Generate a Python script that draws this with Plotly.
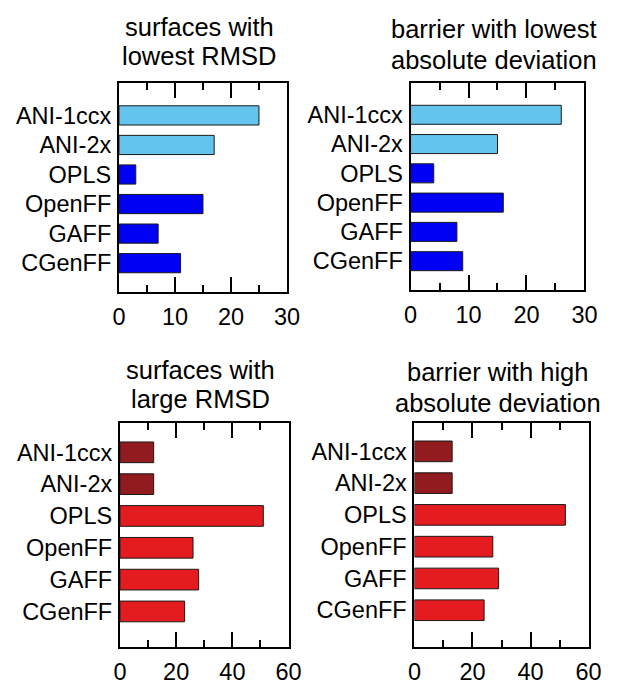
import plotly.graph_objects as go

# Methods listed top to bottom in every panel
methods = ["ANI-1ccx", "ANI-2x", "OPLS", "OpenFF", "GAFF", "CGenFF"]

# Counts per method for each panel
lowest_rmsd = [25, 17, 3, 15, 7, 11]
lowest_barrier_dev = [26, 15, 4, 16, 8, 9]
large_rmsd = [12, 12, 51, 26, 28, 23]
high_barrier_dev = [13, 13, 52, 27, 29, 24]

# Panel titles
titles = [
    ["surfaces with", "lowest RMSD"],
    ["barrier with lowest", "absolute deviation"],
    ["surfaces with", "large RMSD"],
    ["barrier with high", "absolute deviation"],
]

# Colours: ML potentials vs classical force fields
good_colors = ["#63c5ee", "#63c5ee", "#0000f5", "#0000f5", "#0000f5", "#0000f5"]
bad_colors = ["#921b1f", "#921b1f", "#e41b1f", "#e41b1f", "#e41b1f", "#e41b1f"]

W, H = 620, 685

# Panel boxes in pixels: (left, right, top, bottom)
boxes = [
    (115.7, 289.3, 84.3, 296.0),
    (417.0, 596.7, 84.3, 294.0),
    (116.7, 291.0, 429.0, 655.7),
    (421.0, 601.0, 428.7, 655.7),
]
# Category ranges (bottom, top) in index units
yranges = [[5.98, -1.09], [5.99, -1.08], [6.12, -0.91], [6.16, -0.89]]
xmax = [30, 30, 60, 60]
xminor = [5, 5, 10, 10]
xmajor = [10, 10, 20, 20]
series = [lowest_rmsd, lowest_barrier_dev, large_rmsd, high_barrier_dev]
colors = [good_colors, good_colors, bad_colors, bad_colors]
# Vertical centres (px) of the two lines of each panel title
title_mid = [(27.5, 56.5), (29.5, 60.5), (374.5, 404.0), (377.0, 408.0)]

fig = go.Figure()
font_family = "Liberation Sans, Arial, sans-serif"
tick_font = dict(family=font_family, size=23.5, color="black")

for i in range(4):
    l, r, t, b = boxes[i]
    xa = "xaxis" if i == 0 else f"xaxis{i+1}"
    ya = "yaxis" if i == 0 else f"yaxis{i+1}"
    xref = "x" if i == 0 else f"x{i+1}"
    yref = "y" if i == 0 else f"y{i+1}"
    fig.add_trace(go.Bar(
        x=series[i], y=methods, orientation="h",
        marker=dict(color=colors[i], line=dict(color="#1a1a1a", width=1)),
        width=0.65, xaxis=xref, yaxis=yref, showlegend=False,
        hoverinfo="x+y",
    ))
    fig.layout[xa] = dict(
        domain=[l / W, r / W], anchor=yref, range=[0, xmax[i]],
        tickvals=list(range(0, xmax[i] + 1, xmajor[i])),
        ticks="inside", ticklen=15, tickwidth=2, tickcolor="black",
        minor=dict(dtick=xminor[i], ticks="inside", ticklen=7, tickwidth=2,
                   tickcolor="black", showgrid=False),
        showline=True, linecolor="black", linewidth=2, mirror="allticks",
        showgrid=False, zeroline=False, tickfont=tick_font,
        ticklabelstandoff=3, fixedrange=True,
    )
    fig.layout[ya] = dict(
        domain=[1 - b / H, 1 - t / H], anchor=xref,
        type="category", categoryorder="array", categoryarray=methods,
        range=yranges[i], ticks="", showline=True, linecolor="black",
        linewidth=2, mirror=True, showgrid=False, zeroline=False,
        tickfont=tick_font, ticklabelstandoff=1, fixedrange=True,
    )
    cx = (l + r) / 2 / W - 0.006
    for line, ym in zip(titles[i], title_mid[i]):
        fig.add_annotation(
            text=line, xref="paper", yref="paper", x=cx, y=1 - ym / H,
            xanchor="center", yanchor="middle", showarrow=False,
            font=dict(family=font_family, size=25.5, color="black"),
        )

fig.update_layout(
    width=W, height=H, margin=dict(l=0, r=0, t=0, b=0),
    paper_bgcolor="white", plot_bgcolor="white", bargap=0.35,
)

fig.write_html("out.html")
